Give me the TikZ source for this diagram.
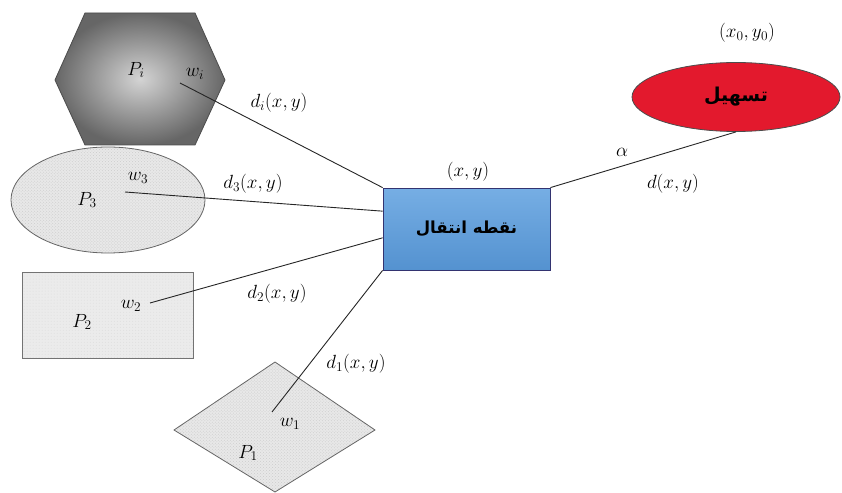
\RequirePackage{fix-cm}
\documentclass[tikz,border=0pt]{standalone}
\usepackage{fontspec}
\newfontfamily\arabicfont[Script=Arabic]{DejaVu Sans}
\TeXXeTstate=1
\usetikzlibrary{shapes.geometric,patterns}

\definecolor{boxblue}{RGB}{84,146,208}
\definecolor{boxblueup}{RGB}{118,174,228}
\definecolor{tashilred}{RGB}{227,25,45}

\begin{document}
\begin{tikzpicture}[x=0.035cm,y=-0.035cm,
    lbl/.style={font=\fontsize{19}{22}\selectfont},
    link/.style={draw=black!85, line width=0.9pt},
    stipple/.style={pattern=crosshatch dots, pattern color=gray!40}]

    \useasboundingbox (0,0) rectangle (842,493);

    % 1. Os quatro conjuntos P (desenhados diretamente como caminhos)
    \def\hexpath{(85,13) -- (195,13) -- (225,80) -- (195,145) -- (85,145) -- (55,80) -- cycle}
    \def\kitepath{(275,362) -- (375,430) -- (275,492) -- (174,430) -- cycle}

    % hexagono P_i, sombreado radial
    \shade[inner color=black!17, outer color=black!60] \hexpath;
    \draw[black!70, thick] \hexpath;

    % elipse P_3, pontilhada
    \fill[gray!18] (108,200) ellipse [x radius=97, y radius=53];
    \fill[stipple] (108,200) ellipse [x radius=97, y radius=53];
    \draw[black!60, thick] (108,200) ellipse [x radius=97, y radius=53];

    % retangulo P_2
    \fill[gray!16] (22,272) rectangle (193,358);
    \fill[pattern=dots, pattern color=gray!25] (22,272) rectangle (193,358);
    \draw[black!55, thick] (22,272) rectangle (193,358);

    % losango P_1
    \fill[gray!18] \kitepath;
    \fill[stipple] \kitepath;
    \draw[black!60, thick] \kitepath;

    % 2. Rotulos dentro dos conjuntos e pontos de peso
    \node[lbl] (pi) at (136,70) {$P_i$};
    \node[lbl] (wilbl) at (195,74) {$w_i$};
    \node[lbl] (p3) at (87,200) {$P_3$};
    \node[lbl] (w3lbl) at (138,178) {$w_3$};
    \node[lbl] (p2) at (82,322) {$P_2$};
    \node[lbl] (w2lbl) at (131,306) {$w_2$};
    \node[lbl] (p1) at (248,453) {$P_1$};
    \node[lbl] (w1lbl) at (290,424) {$w_1$};

    \coordinate (wi) at (180,83);
    \coordinate (w3) at (125,192);
    \coordinate (w2) at (150,303);
    \coordinate (w1) at (272,412);

    % 3. Ponto de transferencia e facilidade
    \node[draw=blue!30!black!80, thick, top color=boxblueup, bottom color=boxblue,
          minimum width=5.845cm, minimum height=2.87cm, inner sep=0pt,
          font=\fontsize{16.5}{20}\selectfont] (naghte) at (466.5,229)
          {\arabicfont\bfseries\beginR نقطه انتقال\endR};

    \node[draw=black!70, fill=tashilred, ellipse, thick,
          minimum width=7.28cm, minimum height=2.415cm, inner sep=0pt,
          font=\fontsize{19}{22}\selectfont] (tashil) at (736,97)
          {\arabicfont\bfseries\beginR تسهیل\endR};

    \node[lbl] (xy) at (468,172) {$(x,y)$};
    \node[lbl] (x0y0) at (747,33) {$(x_0,y_0)$};

    % 4. Conexoes
    \draw[link] (wi) -- (naghte.north west);
    \draw[link] (w3) -- (naghte.168.5);
    \draw[link] (w2) -- (naghte.186);
    \draw[link] (w1) -- (naghte.south west);
    \draw[link] (naghte.north east) -- (tashil.south);

    % rotulos das distancias
    \node[lbl] (di) at (279,103) {$d_i(x,y)$};
    \node[lbl] (d3) at (253,184) {$d_3(x,y)$};
    \node[lbl] (d2) at (277,294) {$d_2(x,y)$};
    \node[lbl] (d1) at (356,364) {$d_1(x,y)$};
    \node[lbl] (alpha) at (622,152) {$\alpha$};
    \node[lbl] (d) at (673,184) {$d(x,y)$};

\end{tikzpicture}
\end{document}
